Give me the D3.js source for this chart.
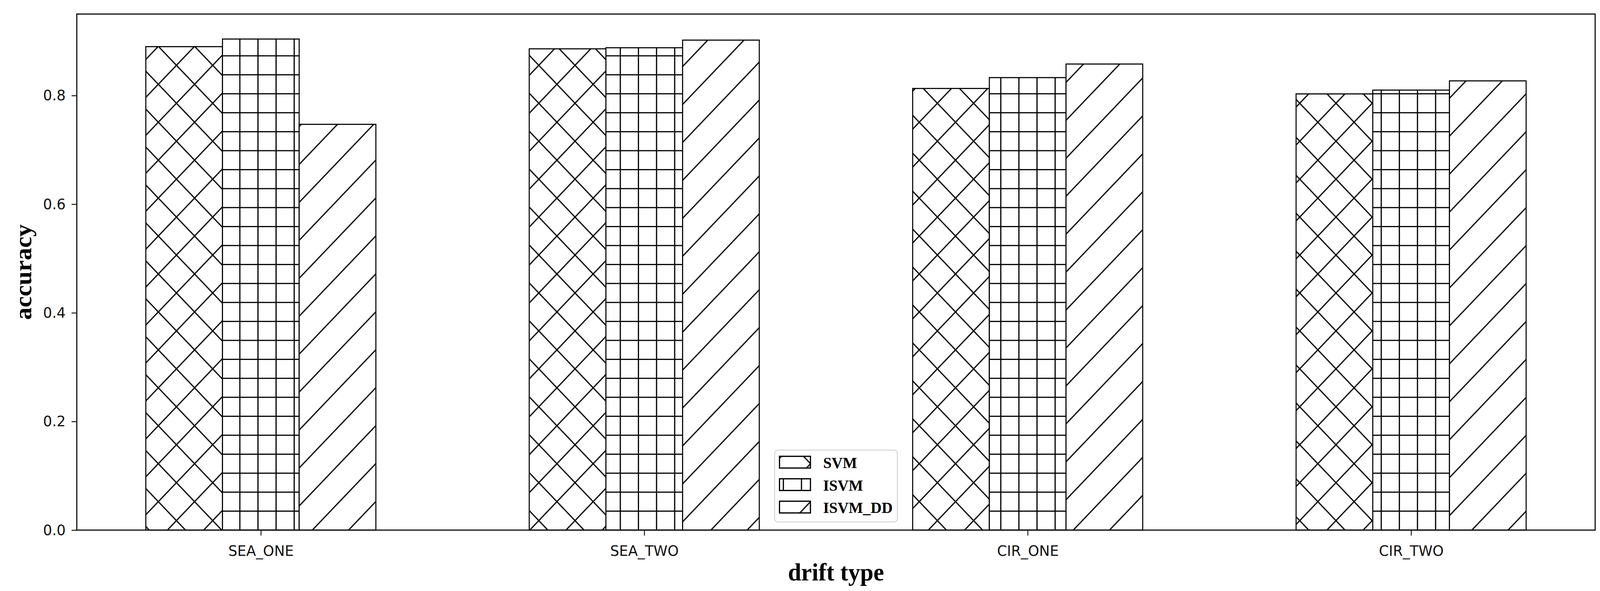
<!DOCTYPE html>
<html lang="en">
<head>
    <meta charset="UTF-8">
    <script src="https://cdn.jsdelivr.net/npm/d3@7"></script>
    <title>accuracy by drift type</title>
    <style>
        html, body {
            margin: 0;
            padding: 0;
            background: #fff;
            overflow: hidden;
        }

        svg {
            display: block;
        }

        .tick text {
            font-family: 'DejaVu Sans', sans-serif;
            font-size: 38px;
            fill: #111;
        }

        .axis-title, .legend text {
            font-family: 'Times New Roman', 'Liberation Serif', serif;
            font-weight: bold;
            fill: #000;
        }
    </style>
</head>

<body>
    <div class="chart"></div>

    <script>
        const width = 4292;
        const height = 1514;
        const margin = { top: 36, right: 13, bottom: 156, left: 206 };

        // chart values
        const driftTypes = ["SEA_ONE", "SEA_TWO", "CIR_ONE", "CIR_TWO"];
        const methods = ["SVM", "ISVM", "ISVM_DD"];
        const svmAcc = [0.890, 0.886, 0.813, 0.803];
        const isvmAcc = [0.904, 0.888, 0.833, 0.810];
        const isvmDDAcc = [0.747, 0.902, 0.858, 0.827];
        const yTicks = [0.0, 0.2, 0.4, 0.6, 0.8];

        const series = [svmAcc, isvmAcc, isvmDDAcc];
        const barWidth = 0.2;
        const hatchSize = 97.2;

        // drawn in a 4292x1514 box, stretched to whatever the window really is
        const svg = d3.select(".chart").append("svg")
            .attr("viewBox", `0 0 ${width} ${height}`)
            .attr("preserveAspectRatio", "none")
            .style("width", "100vw")
            .style("height", "100vh");

        const x = d3.scaleLinear()
            .domain([-0.48, driftTypes.length - 1 + 0.48])
            .range([margin.left, width - margin.right]);

        const y = d3.scaleLinear()
            .domain([0, 0.95])
            .range([height - margin.bottom, margin.top]);

        // hatch patterns, anchored to the plot's lower-left corner like matplotlib
        const defs = svg.append("defs");
        const ox = margin.left;
        const oy = y(0);
        const P = hatchSize;

        function hatchPattern(id, size, offX, offY, d) {
            defs.append("pattern")
                .attr("id", id)
                .attr("patternUnits", "userSpaceOnUse")
                .attr("x", offX)
                .attr("y", offY)
                .attr("width", size)
                .attr("height", size)
                .call(p => {
                    p.append("rect").attr("width", size).attr("height", size).attr("fill", "#fff");
                    p.append("path")
                        .attr("d", d)
                        .attr("stroke", "#000")
                        .attr("stroke-width", 3.2)
                        .attr("fill", "none");
                });
        }

        function neLines(cs) {
            return cs.map(c => `M${-P},${c + P}L${c + P},${-P}`).join("");
        }
        function seLines(cs) {
            return cs.map(c => `M${-P},${-P - c}L${2 * P},${2 * P - c}`).join("");
        }

        // SVM: cross hatch
        hatchPattern("hatch-svm", P, ox, oy,
            neLines([-P / 2, P / 2, 3 * P / 2, 5 * P / 2]) + seLines([-P, 0, P]));
        // ISVM: square grid
        const G = P / 2;
        hatchPattern("hatch-isvm", G, ox - G / 2, oy - G / 2,
            `M${G / 2},0V${G}M0,${G / 2}H${G}`);
        // ISVM_DD: forward diagonals
        hatchPattern("hatch-dd", P, ox, oy,
            neLines([-P / 2, P / 2, 3 * P / 2, 5 * P / 2]));

        const fills = ["url(#hatch-svm)", "url(#hatch-isvm)", "url(#hatch-dd)"];

        // bars
        const bars = [];
        series.forEach((vals, j) => {
            vals.forEach((v, i) => {
                bars.push({ i, j, v });
            });
        });

        svg.append("g")
            .selectAll("rect")
            .data(bars)
            .enter()
            .append("rect")
            .attr("x", d => x(d.i + (d.j - 1) * barWidth - barWidth / 2))
            .attr("width", d => x(barWidth) - x(0))
            .attr("y", d => y(d.v))
            .attr("height", d => y(0) - y(d.v))
            .attr("fill", d => fills[d.j])
            .attr("stroke", "#000")
            .attr("stroke-width", 2.8);

        // axes
        const xAxis = svg.append("g")
            .attr("transform", `translate(0,${y(0)})`)
            .call(d3.axisBottom(x)
                .tickValues(d3.range(driftTypes.length))
                .tickFormat(i => driftTypes[i])
                .tickSize(14)
                .tickPadding(16));

        const yAxis = svg.append("g")
            .attr("transform", `translate(${margin.left},0)`)
            .call(d3.axisLeft(y)
                .tickValues(yTicks)
                .tickFormat(d3.format(".1f"))
                .tickSize(14)
                .tickPadding(16));

        [xAxis, yAxis].forEach(a => {
            a.select(".domain").remove();
            a.selectAll(".tick line").attr("stroke", "#111").attr("stroke-width", 2.4);
        });
        xAxis.selectAll(".tick text").attr("dy", "0.95em");

        // frame
        svg.append("rect")
            .attr("x", margin.left)
            .attr("y", margin.top)
            .attr("width", width - margin.right - margin.left)
            .attr("height", y(0) - margin.top)
            .attr("fill", "none")
            .attr("stroke", "#1a1a1a")
            .attr("stroke-width", 3.2);

        // axis titles
        svg.append("text")
            .attr("class", "axis-title")
            .attr("x", (margin.left + width - margin.right) / 2)
            .attr("y", 1487)
            .attr("text-anchor", "middle")
            .attr("font-size", 64)
            .text("drift type");

        svg.append("text")
            .attr("class", "axis-title")
            .attr("transform", `translate(84,${(margin.top + y(0)) / 2}) rotate(-90)`)
            .attr("text-anchor", "middle")
            .attr("font-size", 64)
            .text("accuracy");

        // legend
        const legend = svg.append("g")
            .attr("class", "legend")
            .attr("transform", "translate(2078,1153)");

        legend.append("rect")
            .attr("width", 329)
            .attr("height", 184)
            .attr("rx", 8)
            .attr("fill", "#fff")
            .attr("stroke", "#d4d4d4")
            .attr("stroke-width", 2.5);

        const rowGap = 57.5;
        methods.forEach((m, j) => {
            const row = legend.append("g")
                .attr("transform", `translate(0,${16 + j * rowGap})`);
            // handles are drawn in page coordinates so the hatch lines up like the bars
            svg.append("rect")
                .attr("x", 2078 + 13)
                .attr("y", 1153 + 16 + j * rowGap)
                .attr("width", 83)
                .attr("height", 30)
                .attr("fill", fills[j])
                .attr("stroke", "#000")
                .attr("stroke-width", 3.2);
            row.append("text")
                .attr("x", 130)
                .attr("y", 30)
                .attr("font-size", 41)
                .text(m);
        });
    </script>
</body>
</html>
